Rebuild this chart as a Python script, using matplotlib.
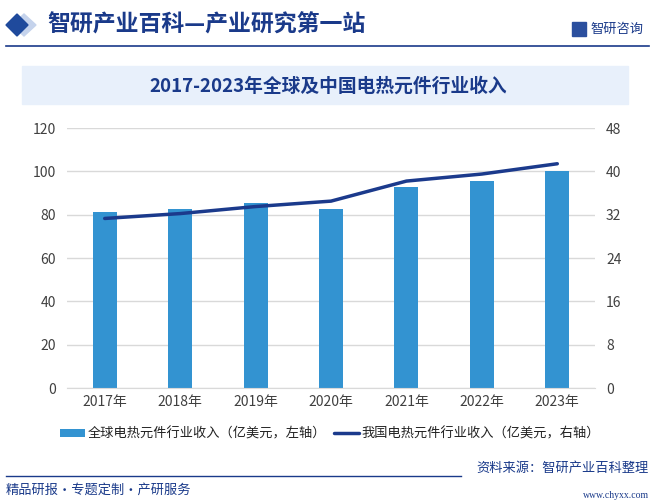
import matplotlib.pyplot as plt
from matplotlib.patches import Rectangle, Polygon
from matplotlib.lines import Line2D

plt.rcParams['font.family'] = ['Noto Sans CJK SC', 'DejaVu Sans']

years = ["2017年", "2018年", "2019年", "2020年", "2021年", "2022年", "2023年"]
global_rev = [81.2, 82.6, 85.3, 82.6, 92.7, 95.5, 100.0]
china_rev = [31.3, 32.2, 33.5, 34.5, 38.2, 39.5, 41.4]
left_ticks = [0, 20, 40, 60, 80, 100, 120]
right_ticks = [0, 8, 16, 24, 32, 40, 48]

title = "2017-2023年全球及中国电热元件行业收入"
bar_label = "全球电热元件行业收入（亿美元，左轴）"
line_label = "我国电热元件行业收入（亿美元，右轴）"

bar_color = "#3393d1"
line_color = "#1b3a8c"
navy = "#1a3a8a"
grid_color = "#d9d9d9"
tick_color = "#404040"

fig = plt.figure(figsize=(6.55, 5.04), dpi=100)
W, H = 655, 504


def fx(px):
    return px / W


def fy(py):
    return 1 - py / H


# header
fig.patches.append(Polygon([(fx(24), fy(14)), (fx(36), fy(25)), (fx(24), fy(36)), (fx(12), fy(25))],
                           closed=True, transform=fig.transFigure, color="#c5d3ec", zorder=1))
fig.patches.append(Polygon([(fx(17), fy(14)), (fx(28), fy(25)), (fx(17), fy(36)), (fx(6), fy(25))],
                           closed=True, transform=fig.transFigure, color="#1f4a9c", zorder=2))
fig.text(fx(47), fy(25), "智研产业百科—产业研究第一站", fontsize=16.5, fontweight="bold",
         color=navy, va="center", ha="left")
fig.patches.append(Rectangle((fx(572), fy(36)), fx(14), 14 / H, transform=fig.transFigure,
                             color="#2b4f9e", zorder=2))
fig.text(fx(590), fy(29), "智研咨询", fontsize=9.5, color=navy, va="center", ha="left")
fig.add_artist(Line2D([fx(6), fx(649)], [fy(46), fy(46)], color=navy, lw=1.2))

# title box
fig.patches.append(Rectangle((fx(22), fy(104)), fx(606), 38 / H, transform=fig.transFigure,
                             color="#e8f0fb", zorder=0))
fig.text(fx(328), fy(86), title, fontsize=13.5, fontweight="bold", color=navy,
         ha="center", va="center")

# chart
ax = fig.add_axes([fx(67), fy(388), fx(528), 260 / H])
x = range(len(years))
ax.bar(x, global_rev, width=0.32, color=bar_color, zorder=2, label=bar_label)
ax.set_xlim(-0.5, len(years) - 0.5)
ax.set_ylim(0, 120)
ax.set_yticks(left_ticks)
ax.set_xticks(list(x))
ax.set_xticklabels(years)
ax.grid(axis="y", color=grid_color, lw=1, zorder=0)
for s in ["top", "right", "left"]:
    ax.spines[s].set_visible(False)
ax.spines["bottom"].set_color(grid_color)
ax.tick_params(axis="both", length=0, labelsize=10, colors=tick_color, pad=8)
ax.tick_params(axis="x", pad=5)

ax2 = ax.twinx()
ax2.plot(x, china_rev, color=line_color, lw=2.5, zorder=3, label=line_label,
         solid_capstyle="round")
ax2.set_ylim(0, 48)
ax2.set_yticks(right_ticks)
for s in ax2.spines.values():
    s.set_visible(False)
ax2.tick_params(axis="y", length=0, labelsize=10, colors=tick_color, pad=8)

h1, l1 = ax.get_legend_handles_labels()
h2, l2 = ax2.get_legend_handles_labels()
fig.legend(h1 + h2, l1 + l2, loc="center", bbox_to_anchor=(fx(330), fy(434)), ncol=2,
           frameon=False, fontsize=9.5, handlelength=1.9, handleheight=0.6,
           handletextpad=0.2, columnspacing=0.6, labelcolor="#222222")

# footer
fig.add_artist(Line2D([fx(6), fx(461)], [fy(476), fy(476)], color=navy, lw=1.0))
fig.text(fx(649), fy(468), "资料来源：智研产业百科整理", fontsize=9.5, color=navy,
         ha="right", va="center")
fig.text(fx(6), fy(490), "精品研报·专题定制·产研服务", fontsize=9.5, color=navy,
         ha="left", va="center")
fig.text(fx(649), fy(495), "www.chyxx.com", fontsize=7, color=navy, ha="right",
         va="center", family=["Liberation Serif", "DejaVu Serif"])

fig.savefig("out.png", dpi=100)
